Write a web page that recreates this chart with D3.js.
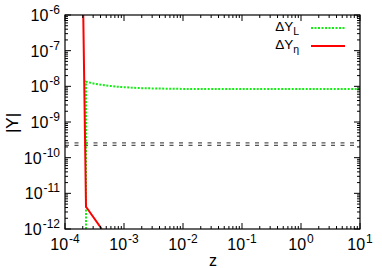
<!DOCTYPE html>
<html><head><meta charset="utf-8">
<script src="https://cdn.jsdelivr.net/npm/d3@7"></script>
<style>body{margin:0;background:#fff}svg{display:block}text{font-family:"Liberation Sans",Arial,sans-serif}</style>
</head><body><svg id="c" width="382" height="268"></svg>
<script>
const xTickExps = [-4,-3,-2,-1,0,1];
const yTickExps = [-12,-11,-10,-9,-8,-7,-6];
const greenZ = [2.27e-4, 2.27e-4, 2.6e-4, 3.2e-4, 4.2e-4, 5.4e-4, 7.5e-4, 1.0e-3, 1.3e-3, 2e-3, 3.5e-3, 7e-3, 2e-2, 1e-1, 1, 10];
const greenY = [1e-12, 1.35e-8, 1.28e-8, 1.18e-8, 1.1e-8, 1.04e-8, 9.8e-9, 9.5e-9, 9.2e-9, 8.9e-9, 8.7e-9, 8.5e-9, 8.45e-9, 8.4e-9, 8.4e-9, 8.4e-9];
const redZ = [2.04e-4, 2.27e-4, 4.2e-4];
const redY = [1e-6, 4.2e-12, 1e-12];
const boundY = [2.6e-10, 2.2e-10];
const legendLabels = [{main:"ΔY", sub:"L"}, {main:"ΔY", sub:"η"}];

const svg = d3.select("#c");
const L=65, R=360, T=15, B=229;
const x = d3.scaleLog().domain([1e-4,10]).range([L,R]);
const y = d3.scaleLog().domain([1e-12,1e-6]).range([B,T]);
svg.append("clipPath").attr("id","cp").append("rect").attr("x",L).attr("y",T).attr("width",R-L).attr("height",B-T);

boundY.forEach(v=>{
  svg.append("line").attr("x1",L).attr("x2",R).attr("y1",y(v)).attr("y2",y(v))
    .attr("stroke","#555").attr("stroke-width",1.2).attr("stroke-dasharray","4,5.5");
});
const line = d3.line().x(d=>x(d[0])).y(d=>y(d[1]));
svg.append("path").attr("d",line(greenZ.map((z,i)=>[z,greenY[i]]))).attr("fill","none")
  .attr("stroke","#11ee11").attr("stroke-width",2).attr("stroke-dasharray","2,1.5").attr("clip-path","url(#cp)");
svg.append("path").attr("d",line(redZ.map((z,i)=>[z,redY[i]]))).attr("fill","none")
  .attr("stroke","#ff0000").attr("stroke-width",2).attr("clip-path","url(#cp)");

const g = svg.append("g").attr("stroke","#000").attr("stroke-width",1);
function minors(lo,hi){const a=[];for(let e=lo;e<hi;e++)for(let k=2;k<=9;k++)a.push(k*Math.pow(10,e));return a;}
xTickExps.forEach(e=>{const px=x(Math.pow(10,e));
  g.append("line").attr("x1",px).attr("x2",px).attr("y1",B).attr("y2",B-6);
  g.append("line").attr("x1",px).attr("x2",px).attr("y1",T).attr("y2",T+6);});
minors(-4,1).forEach(v=>{const px=x(v);
  g.append("line").attr("x1",px).attr("x2",px).attr("y1",B).attr("y2",B-3);
  g.append("line").attr("x1",px).attr("x2",px).attr("y1",T).attr("y2",T+3);});
yTickExps.forEach(e=>{const py=y(Math.pow(10,e));
  g.append("line").attr("x1",L).attr("x2",L+6).attr("y1",py).attr("y2",py);
  g.append("line").attr("x1",R).attr("x2",R-6).attr("y1",py).attr("y2",py);});
minors(-12,-6).forEach(v=>{const py=y(v);
  g.append("line").attr("x1",L).attr("x2",L+3).attr("y1",py).attr("y2",py);
  g.append("line").attr("x1",R).attr("x2",R-3).attr("y1",py).attr("y2",py);});
svg.append("rect").attr("x",L).attr("y",T).attr("width",R-L).attr("height",B-T).attr("fill","none").attr("stroke","#000").attr("stroke-width",1.2);

function pow10(sel, e){
  sel.append("tspan").text("10");
  sel.append("tspan").attr("font-size","12px").attr("dx","1").attr("dy","-7").text(e<0?"-"+(-e):String(e));
}
yTickExps.forEach(e=>{
  const t=svg.append("text").attr("x",60).attr("y",y(Math.pow(10,e))+6).attr("text-anchor","end").attr("font-size","16px");
  pow10(t,e);
});
xTickExps.forEach(e=>{
  const t=svg.append("text").attr("x",x(Math.pow(10,e))).attr("y",250).attr("text-anchor","middle").attr("font-size","16px");
  pow10(t,e);
});
svg.append("text").attr("transform","translate(18,123) rotate(-90)").attr("text-anchor","middle").attr("font-size","17px").text("|Y|");
svg.append("text").attr("x",213).attr("y",266).attr("text-anchor","middle").attr("font-size","16px").text("z");

const legColors=["#11ee11","#ff0000"], legDash=["2,1.5",null];
legendLabels.forEach((d,i)=>{
  const ly=28+i*18;
  const t=svg.append("text").attr("x",299).attr("y",ly+3).attr("text-anchor","end").attr("font-size","13.5px");
  t.append("tspan").text(d.main);
  t.append("tspan").attr("font-size","10.5px").attr("dy","4").text(d.sub);
  const ln=svg.append("line").attr("x1",311).attr("x2",345).attr("y1",ly).attr("y2",ly).attr("stroke",legColors[i]).attr("stroke-width",2);
  if(legDash[i]) ln.attr("stroke-dasharray",legDash[i]);
});
</script></body></html>
